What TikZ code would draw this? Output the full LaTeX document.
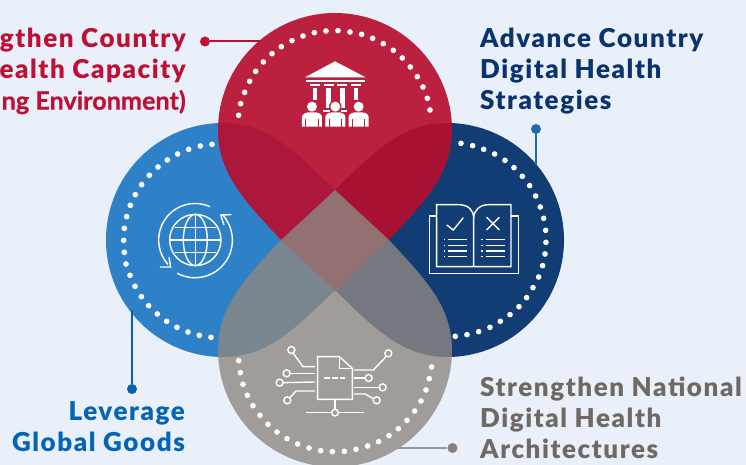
\documentclass[tikz,border=0pt]{standalone}
\usepackage{fontspec}
\setmainfont{Lato}[BoldFont=Lato Black,LetterSpace=6]
\newfontfamily\midfont{Lato}[FakeBold=0.6,LetterSpace=0]
\definecolor{pagebg}{RGB}{233,240,250}
\definecolor{cblue}{RGB}{46,129,199}
\definecolor{cnavy}{RGB}{17,60,116}
\definecolor{credS}{RGB}{184,13,46}
\definecolor{credP}{RGB}{188,32,63}
\definecolor{cgrayS}{RGB}{142,136,130}
\definecolor{tred}{RGB}{190,15,52}
\definecolor{tnavy}{RGB}{10,50,110}
\definecolor{tblue}{RGB}{5,100,180}
\definecolor{tgray}{RGB}{110,105,100}
\definecolor{lblue}{RGB}{10,95,170}
\definecolor{lnavy}{RGB}{28,105,172}
\definecolor{lgray}{RGB}{158,152,146}
\definecolor{dgray}{RGB}{135,130,124}
\newcommand{\teardrop}[6]{%
  \begin{scope}[shift={(#1,#2)},rotate=#3]
    \fill[#6] (-117,0) arc[start angle=180,end angle=0,radius=117pt]
      .. controls (117,45) and (88,73) .. (#4) -- (0,#5) -- (-#4)
      .. controls (-88,73) and (-117,45) .. (-117,0) -- cycle;
  \end{scope}}
\newcommand{\dotring}[3]{%
  \begin{scope}[shift={(#1,#2)},x=.3333pt,y=-.3333pt]
    \foreach \a/\b in {#3} \fill[white] (\a,\b) circle[radius=8.5];
  \end{scope}}
\tikzset{
  lbl/.style={inner sep=0pt,font=\fontsize{26}{31}\selectfont\bfseries},
  pin/.style={circle,fill=#1,minimum size=10pt,inner sep=0pt},
  wire/.style={line width=2pt,draw=#1},
  ico/.style={draw=white,line width=1.4pt,line join=miter},
}
\begin{document}
\begin{tikzpicture}[x=1pt,y=-1pt]
\useasboundingbox (0,0) rectangle (746,465);
\fill[pagebg] (0,0) rectangle (746,465);
\teardrop{223}{240}{90}{50,112}{166}{cblue}
\teardrop{447}{240}{-90}{50,112}{166}{cnavy}
\teardrop{335}{130}{0}{54,110}{161}{credS,opacity=.915}
\teardrop{335}{350}{180}{54,110}{160}{cgrayS,opacity=.8}
% dot rings
\dotring{200}{0}{116/346,122/311,134/277,149/244,167/214,190/186,216/161,244/140,276/122,309/108,343/98,378/93,414/92,450/96,485/103,518/115,550/131,580/151,607/174,631/201,652/230,669/261,682/295,690/330}
\dotring{100}{120}{336/73,301/78,266/88,233/102,202/120,174/141,148/166,125/194,106/224,91/256,80/290,73/325,71/361,73/397,78/432,90/466,105/499,124/530,146/557,172/582,200/604,231/622,264/636,298/646,333/652}
\dotring{340}{120}{363/70,398/77,431/88,464/102,495/121,522/143,547/169,569/197,587/228,601/261,611/295,617/331,618/367,615/402,608/437,596/471,579/503,560/533,537/560,510/584,481/604,450/622,416/635,381/644,346/649}
\dotring{210}{280}{86/242,91/278,99/313,112/346,129/377,150/406,174/433,201/456,231/476,263/492,297/504,332/512,367/515,403/514,438/508,473/498,506/485,537/467,565/446,591/421,614/393,633/363,648/330,658/296,665/261}
% connectors
\node[pin=tred] (pinred) at (205,41.5) {};
\coordinate (endred) at (261,41.5);
\draw[wire=tred] (pinred) -- (endred);
\node[pin=lnavy] (pinnavy) at (536,129) {};
\coordinate (endnavy) at (536,165);
\draw[wire=lnavy] (pinnavy) -- (endnavy);
\node[pin=lblue] (pinblue) at (132,389) {};
\coordinate (endblue) at (132,310);
\draw[wire=lblue] (pinblue) -- (endblue);
\node[pin=dgray] (pingray) at (452.5,448) {};
\coordinate (endgray) at (397,448);
\draw[wire=lgray] (pingray) -- (endgray);
% temple icon
\begin{scope}[shift={(200,0)},x=.3333pt,y=-.3333pt]
  \fill[white] (315,232) -- (405,184) -- (497,232) -- cycle;
  \fill[white] (317,241) rectangle (495,246);
  \foreach \c in {345,387,427,468}{
    \fill[white] (\c-15,252) rectangle (\c+15,257);
  }
  \foreach \c in {345,468} \fill[white] (\c-7,263) rectangle (\c+7,300);
  \foreach \c in {386,427} \fill[white] (\c-7,263) rectangle (\c+7,325);
  \fill[white] (370,331) rectangle (390,335);
  \fill[white] (423,331) rectangle (442,335);
  \foreach \c in {336,406,476}{
    \fill[credP] (\c,320) circle[radius=19];
    \fill[white] (\c,320) circle[radius=15];
    \fill[white] (\c-30,380) -- (\c-30,352) .. controls (\c-30,342) and (\c-20,338) .. (\c-10,337)
      -- (\c+10,337) .. controls (\c+20,338) and (\c+30,342) .. (\c+30,352) -- (\c+30,380) -- cycle;
    \fill[credP] (\c-20,356) rectangle (\c-17,380);
    \fill[credP] (\c+17,356) rectangle (\c+20,380);
  }
\end{scope}
% globe icon
\begin{scope}[shift={(100,120)},x=.3333pt,y=-.3333pt]
  \draw[ico] (286,360) circle[radius=77];
  \draw[ico] (286,360) ellipse[x radius=36,y radius=77];
  \draw[ico] (286,283) -- (286,437);
  \draw[ico] (209,360) -- (363,360);
  \draw[ico] (224,322) -- (348,322);
  \draw[ico] (224,398) -- (348,398);
  \draw[ico] (330,260) arc[start angle=66,end angle=222,radius=36.5pt];
  \draw[ico] (232,460) arc[start angle=242,end angle=402,radius=37.5pt];
  \draw[ico] (180,441) -- (212,441) -- (207,412);
  \draw[ico] (394,284) -- (362,285) -- (372,315);
\end{scope}
% book icon
\begin{scope}[shift={(340,120)},x=.3333pt,y=-.3333pt]
  \draw[ico] (290,288) -- (268,288) -- (268,460) -- (536,460) -- (536,288) -- (513,288);
  \draw[ico] (401,440) -- (290,440) -- (290,254) -- (355,254) .. controls (385,254) and (401,270) .. (401,295) -- (401,440);
  \draw[ico] (401,295) .. controls (401,270) and (420,254) .. (447,254) -- (513,254) -- (513,440) -- (401,440);
  \draw[ico] (320,315) -- (340,330) -- (370,293);
  \draw[ico] (440,292) -- (478,330) (478,292) -- (440,330);
  \foreach \y in {358,376,393,410}{
    \draw[ico] (325,\y) -- (382,\y);
    \draw[ico] (312,\y) -- (316,\y);
    \draw[ico] (437,\y) -- (494,\y);
    \draw[ico] (424,\y) -- (428,\y);
  }
\end{scope}
% network icon
\begin{scope}[shift={(210,280)},x=.3333pt,y=-.3333pt]
  \draw[ico] (323,230) -- (388,230) -- (427,265) -- (427,358) -- (323,358) -- cycle;
  \draw[ico] (388,230) -- (388,265) -- (427,265);
  \draw[ico] (342,294) -- (360,294) (366,294) -- (384,294) (390,294) -- (405,294);
  \draw[ico] (375,358) -- (375,388);
  \draw[ico] (375,398) circle[radius=10];
  \draw[ico] (288,398) -- (365,398) (385,398) -- (461,398);
  \draw[ico] (244,210) circle[radius=10.5];
  \draw[ico] (250,220) -- (279,260) -- (315,260);
  \draw[ico] (230,280) circle[radius=10.5];
  \draw[ico] (240,280) -- (315,280);
  \draw[ico] (209,308) circle[radius=10.5];
  \draw[ico] (219,308) -- (315,306);
  \draw[ico] (232,361) circle[radius=10.5];
  \draw[ico] (240,353) -- (258,333) -- (315,333);
  \draw[ico] (535,220) circle[radius=10.5];
  \draw[ico] (528,230) -- (490,270) -- (432,270);
  \draw[ico] (476,294) circle[radius=10.5];
  \draw[ico] (432,294) -- (466,294);
  \draw[ico] (518,322) circle[radius=10.5];
  \draw[ico] (432,322) -- (508,322);
  \draw[ico] (500,361) circle[radius=10.5];
  \draw[ico] (490,356) -- (465,342) -- (432,342);
\end{scope}
% labels
\node[lbl,text=tred,align=right,anchor=north east] (labred) at (186,28)
  {gthen Country\\ealth Capacity\\{\midfont\fontsize{25.2}{31}\selectfont ng Environment)}};
\node[lbl,text=tnavy,align=left,anchor=north west] (labnavy) at (480,28)
  {Advance Country\\Digital Health\\Strategies};
\node[lbl,text=tblue,align=right,anchor=north east] (labblue) at (185,401)
  {Leverage\\Global Goods};
\node[lbl,text=tgray,align=left,anchor=north west] (labgray) at (480,376.5)
  {Strengthen National\\Digital Health\\Architectures};
\end{tikzpicture}
\end{document}
